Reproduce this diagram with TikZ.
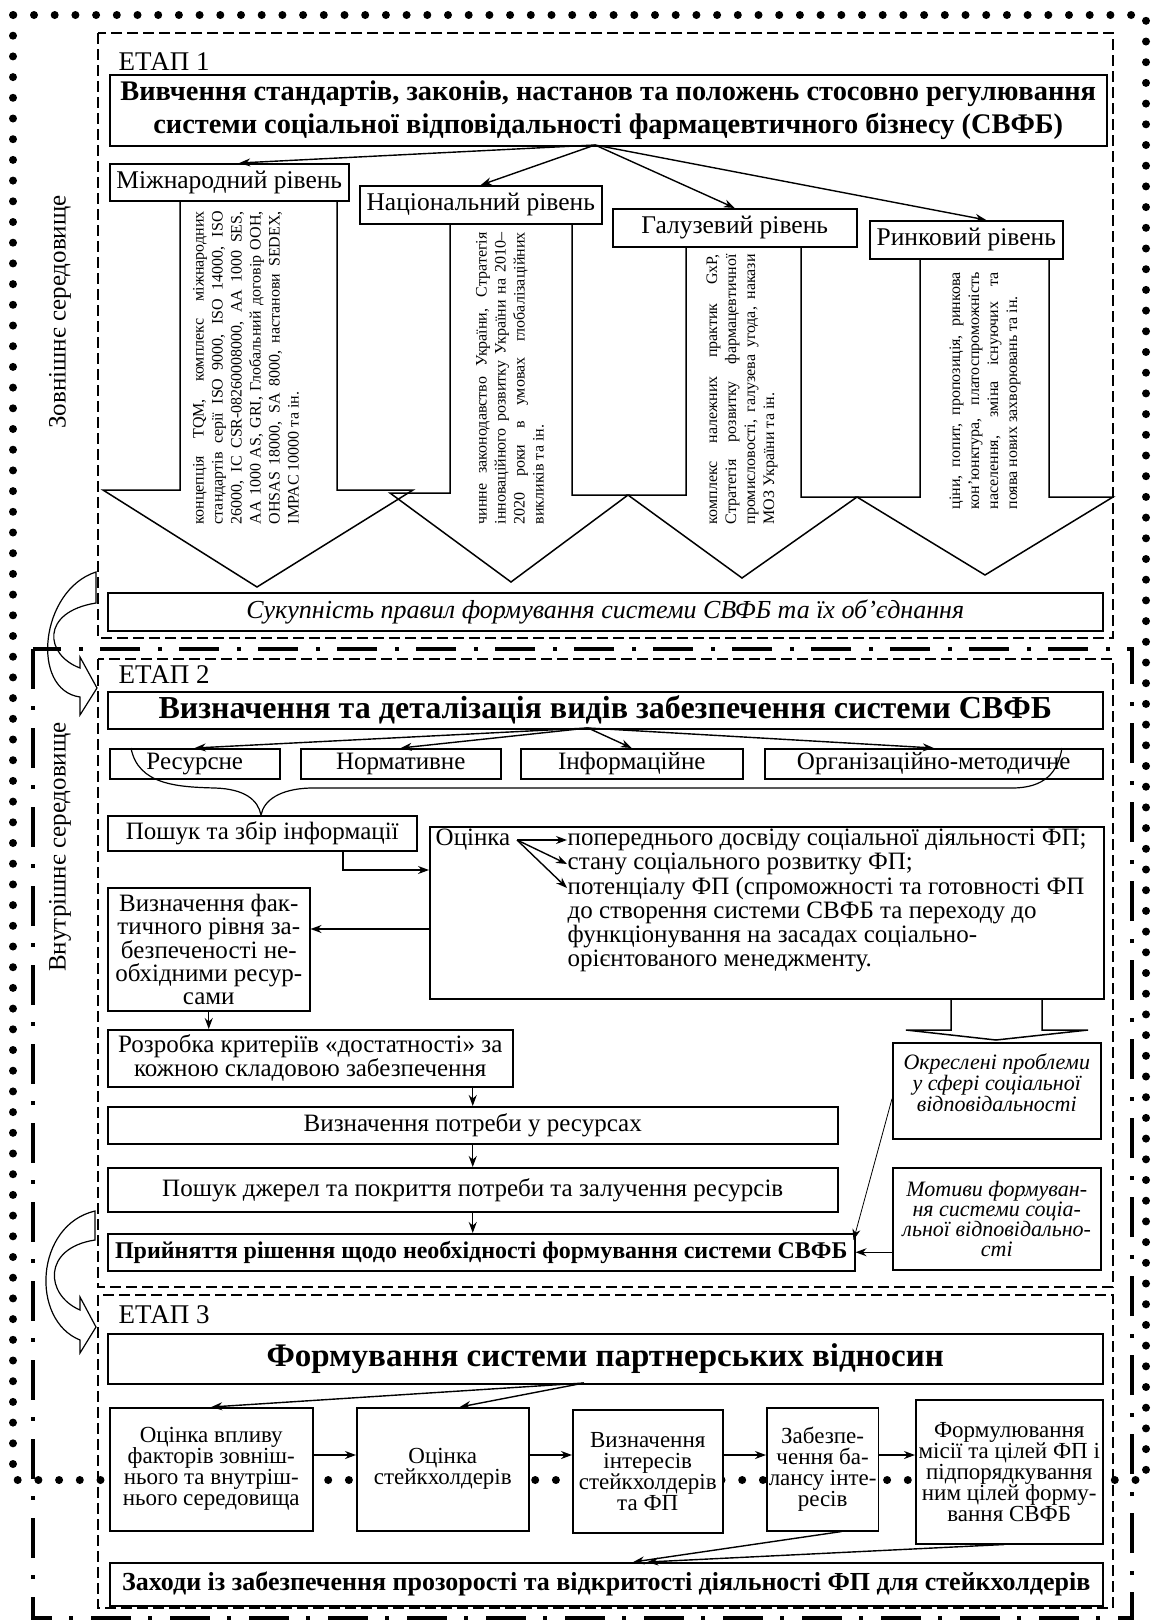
\documentclass[tikz,border=0pt]{standalone}
\usepackage{fontspec}
\setmainfont{Liberation Serif}
\usetikzlibrary{arrows.meta}
\newcommand{\fsz}[2]{\fontsize{#1}{#2}\selectfont}

\begin{document}
\begin{tikzpicture}[
    x=1pt, y=-1pt, line width=1.4pt,
    box/.style={draw, line width=1.5pt, fill=white, anchor=north west, inner sep=2pt, align=center, font=\fsz{25}{24}},
    stage/.style={draw, line width=1.2pt, dash pattern=on 11pt off 5pt},
    stagelabel/.style={anchor=west, inner sep=0pt, font=\fsz{27}{27}},
    rottext/.style={rotate=90, anchor=west, inner sep=0pt, align=justify, font=\fsz{16}{19}},
    item/.style={anchor=west, inner sep=0pt, font=\fsz{25}{24}},
    stepbox/.style={box, font=\fsz{23}{21}},
    blockarrow/.style={line width=1.5pt, line join=miter},
    >={Stealth[length=11pt,width=8pt]}
]
\useasboundingbox (0,0) rectangle (1152,1623);

\draw[line width=8pt, line cap=round, dash pattern=on 0pt off 20.7pt] (13,15) rectangle (1146,1480);
\draw[line width=4pt, dash pattern=on 40pt off 17pt on 4pt off 18pt] (33,649) rectangle (1132,1618);
\draw[stage] (98,33) rectangle (1113,638);
\draw[stage] (98,659) rectangle (1113,1287);
\draw[stage] (98,1295) rectangle (1113,1608);

\node[rotate=90, font=\fsz{25}{25}] (ext) at (60,312) {Зовнішнє середовище};
\node[rotate=90, font=\fsz{25}{25}] (int) at (60,847) {Внутрішнє середовище};

\node[stagelabel] (e1) at (118,62) {ЕТАП 1};
\node[box, font=\bfseries\fsz{28.4}{33}, minimum width=997pt, minimum height=71pt] (t1) at (109,74) {Вивчення стандартів, законів, настанов та положень стосовно регулювання\\системи соціальної відповідальності фармацевтичного бізнесу (СВФБ)};
\node[box, font=\fsz{25.5}{25}, minimum width=239pt, minimum height=37pt] (lvA) at (109,163) {Міжнародний рівень};
\node[box, font=\fsz{25.5}{25}, minimum width=242pt, minimum height=38pt] (lvB) at (359,185) {Національний рівень};
\node[box, font=\fsz{25.5}{25}, minimum width=244pt, minimum height=38pt] (lvC) at (612,208) {Галузевий рівень};
\node[box, font=\fsz{25.5}{25}, minimum width=193pt, minimum height=38pt] (lvD) at (869,220) {Ринковий рівень};

\coordinate (t1o) at (595,145);
\draw[->] (t1o) -- ([xshift=10pt]lvA.north);
\draw[->] (t1o) -- (lvB.north);
\draw[->] (t1o) -- (lvC.north);
\draw[->] (t1o) -- ([xshift=20pt]lvD.north);

\draw[blockarrow] (180,200) -- (180,490) -- (103,490) -- (257,587) -- (413,490) -- (337,490) -- (337,200);
\draw[blockarrow] (450,223) -- (450,493) -- (390,493) -- (511,582) -- (628,495) -- (572,495) -- (572,223);
\draw[blockarrow] (686,246) -- (686,495) -- (628,495) -- (742,578) -- (857,497) -- (801,497) -- (801,246);
\draw[blockarrow] (920,258) -- (920,497) -- (857,497) -- (985,575) -- (1113,497) -- (1049,497) -- (1049,258);

\node[rottext, text width=313pt] (txA) at (246,525) {концепція TQM, комплекс міжнародних\linebreak стандартів серії ISO 9000, ISO 14000, ISO\linebreak 26000, IC CSR-08260008000, AA 1000 SES,\linebreak AA 1000 AS, GRI, Глобальний договір ООН,\linebreak OHSAS 18000, SA 8000, настанови SEDEX,\linebreak IMPAC 10000 та ін.};
\node[rottext, text width=292pt] (txB) at (510,525) {чинне законодавство України, Стратегія\linebreak інноваційного розвитку України на 2010–\linebreak 2020 роки в умовах глобалізаційних\linebreak викликів та ін.};
\node[rottext, text width=270pt] (txC) at (742,525) {комплекс належних практик GxP,\linebreak Стратегія розвитку фармацевтичної\linebreak промисловості, галузева угода, накази\linebreak МОЗ України та ін.};
\node[rottext, text width=237pt] (txD) at (985,510) {ціни, попит, пропозиція, ринкова\linebreak кон’юнктура, платоспроможність\linebreak населення, зміна існуючих та\linebreak поява нових захворювань та ін.};

\node[box, font=\itshape\fsz{26}{26}, minimum width=995pt, minimum height=38pt] (suk) at (107,592) {Сукупність правил формування системи СВФБ та їх об’єднання};

\node[stagelabel] (e2) at (118,675) {ЕТАП 2};
\node[box, font=\bfseries\fsz{32}{32}, minimum width=995pt, minimum height=37pt] (t2) at (107,691) {Визначення та деталізація видів забезпечення системи СВФБ};
\node[box, minimum width=170pt, minimum height=30pt] (kA) at (109,748) {Ресурсне};
\node[box, minimum width=200pt, minimum height=30pt] (kB) at (300,748) {Нормативне};
\node[box, minimum width=222pt, minimum height=30pt] (kC) at (520,748) {Інформаційне};
\node[box, minimum width=338pt, minimum height=30pt] (kD) at (764,748) {Організаційно-методичне};

\coordinate (t2o) at (588,728);
\draw[->] (t2o) -- (kA.north);
\draw[->] (t2o) -- (kB.north);
\draw[->] (t2o) -- (kC.north);
\draw[->] (t2o) -- (kD.north);

\node[box, minimum width=309pt, minimum height=35pt] (srch) at (107,815) {Пошук та збір інформації};
\draw[line width=1.2pt] (131,748) .. controls (138,785) and (178,787) .. (215,788) .. controls (245,789) and (258,800) .. (261,815)
    .. controls (264,800) and (280,789) .. (310,788) -- (1012,788) .. controls (1045,788) and (1058,772) .. (1062,748);

\node[box, minimum width=674pt, minimum height=172pt] (ocb) at (429,826) {};
\node[item] (ocn) at (435,840) {Оцінка};
\node[item] (o1) at (567,840) {попереднього досвіду соціальної діяльності ФП;};
\node[item] (o2) at (567,864) {стану соціального розвитку ФП;};
\node[item, anchor=north west, align=left] (o3) at (567,876) {потенціалу ФП (спроможності та готовності ФП\\до створення системи СВФБ та переходу до\\функціонування на засадах соціально-\\орієнтованого менеджменту.};
\draw[->] ([xshift=6pt]ocn.east) -- (o1.west);
\draw[->] ([xshift=6pt]ocn.east) -- (o2.west);
\draw[->] ([xshift=6pt]ocn.east) -- ([yshift=-12pt]o3.north west);

\coordinate (elb) at (343,870);
\draw[->] (srch.south -| elb) |- (ocb.west |- elb);

\node[box, font=\fsz{25}{23}, minimum width=202pt, minimum height=123pt] (vf) at (107,887) {Визначення фак-\\тичного рівня за-\\безпеченості не-\\обхідними ресур-\\сами};
\coordinate (ely) at (0,929);
\draw[->] (ocb.west |- ely) -- (vf.east |- ely);

\node[box, minimum width=405pt, minimum height=57pt] (rozr) at (107,1029) {Розробка критеріїв «достатності» за\\кожною складовою забезпечення};
\node[box, minimum width=730pt, minimum height=37pt] (potr) at (107,1106) {Визначення потреби у ресурсах};
\node[box, minimum width=730pt, minimum height=44pt] (dzh) at (107,1167) {Пошук джерел та покриття потреби та залучення ресурсів};
\node[box, font=\bfseries\fsz{24}{24}, minimum width=747pt, minimum height=37pt] (prn) at (107,1233) {Прийняття рішення щодо необхідності формування системи СВФБ};
\draw[->] (vf.south) -- (rozr.north -| vf.south);
\draw[->] (potr.north |- rozr.south) -- (potr.north);
\draw[->] (potr.south) -- (dzh.north);
\draw[->] (dzh.south) -- (prn.north -| dzh.south);

\draw[blockarrow] (951,998) -- (951,1030) -- (906,1030) -- (996,1040) -- (1088,1030) -- (1042,1030) -- (1042,998);
\node[box, minimum width=208pt, minimum height=96pt] (okr) at (892,1042) {};
\node[anchor=north, font=\itshape\fsz{22}{19}, align=center] (okrt) at ([yshift=-8pt]okr.north) {Окреслені проблеми\\у сфері соціальної\\відповідальності};
\node[box, font=\itshape\fsz{22}{20}, minimum width=208pt, minimum height=102pt] (mot) at (892,1167) {Мотиви формуван-\\ня системи соціа-\\льної відповідально-\\сті};
\draw[->, line width=0.8pt] ([yshift=-8pt]okr.west) -- ([shift={(-2pt,-7pt)}]prn.north east);
\draw[->] (mot.west |- prn.east) -- (prn.east);

\node[stagelabel] (e3) at (118,1315) {ЕТАП 3};
\node[box, font=\bfseries\fsz{33}{33}, minimum width=995pt, minimum height=50pt] (t3) at (107,1333) {Формування системи партнерських відносин};
\node[stepbox, minimum width=203pt, minimum height=123pt] (sA) at (109,1407) {Оцінка впливу\\факторів зовніш-\\нього та внутріш-\\нього середовища};
\node[stepbox, minimum width=172pt, minimum height=123pt] (sB) at (356,1407) {Оцінка\\стейкхолдерів};
\node[stepbox, minimum width=150pt, minimum height=123pt] (sC) at (572,1409) {Визначення\\інтересів\\стейкхолдерів\\та ФП};
\node[stepbox, minimum width=106pt, minimum height=123pt] (sD) at (766,1407) {Забезпе-\\чення ба-\\лансу інте-\\ресів};
\node[stepbox, minimum width=187pt, minimum height=144pt] (sE) at (915,1399) {Формулювання\\місії та цілей ФП і\\підпорядкування\\ним цілей форму-\\вання СВФБ};
\node[box, font=\bfseries\fsz{26}{26}, minimum width=993pt, minimum height=43pt] (zah) at (109,1562) {Заходи із забезпечення прозорості та відкритості діяльності ФП для стейкхолдерів};

\coordinate (t3o) at (584,1383);
\draw[->] (t3o) -- (sA.north);
\draw[->] (t3o) -- ([xshift=17pt]sB.north);
\coordinate (rowy) at (0,1455);
\draw[->] (sA.east |- rowy) -- (sB.west |- rowy);
\draw[->] (sB.east |- rowy) -- (sC.west |- rowy);
\draw[->] (sC.east |- rowy) -- (sD.west |- rowy);
\draw[->] (sD.east |- rowy) -- (sE.west |- rowy);
\draw[->] ([xshift=19pt]sD.south) -- ([xshift=27pt]zah.north);
\draw[->] ([xshift=-5pt]sE.south) -- ([xshift=41pt]zah.north);

\draw[line width=1.2pt] (96,572) .. controls (40,590) and (30,690) .. (80,697) -- (80,715) -- (97,688) -- (80,657) -- (80,668)
    .. controls (45,655) and (40,612) .. (96,603) -- cycle;
\draw[line width=1.2pt] (95,1211) .. controls (35,1225) and (30,1320) .. (80,1340) -- (80,1353) -- (96,1327) -- (80,1297) -- (80,1310)
    .. controls (45,1295) and (42,1248) .. (95,1240) -- cycle;
\end{tikzpicture}
\end{document}
